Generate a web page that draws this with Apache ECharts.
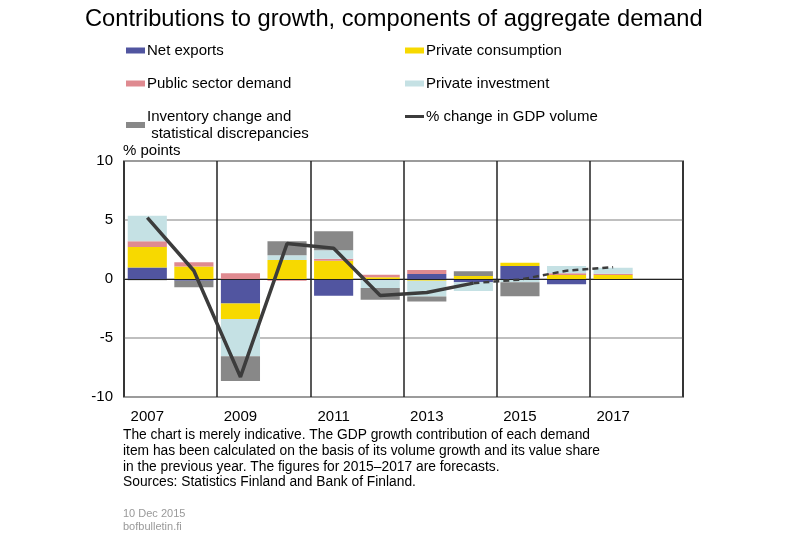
<!DOCTYPE html>
<html>
<head>
<meta charset="utf-8">
<script src="https://cdn.jsdelivr.net/npm/echarts@6/dist/echarts.min.js"></script>
<style>
  html, body { margin: 0; padding: 0; background: #fff; }
  #main { width: 800px; height: 556px; }
</style>
</head>
<body>
<div id="main"></div>
<script>
// data (% points)
var years = ['2007', '2008', '2009', '2010', '2011', '2012', '2013', '2014', '2015', '2016', '2017', '2018'];
var netExports = [0.98, -0.15, -2.08, 0, -1.43, -0.1, 0.42, -0.28, 1.1, -0.45, 0];
var privateConsumption = [1.74, 1.05, -1.32, 1.6, 1.54, 0.15, -0.14, 0.25, 0.28, 0.34, 0.34];
var publicDemand = [0.48, 0.37, 0.48, -0.14, 0.17, 0.2, 0.34, 0, 0, 0.14, 0.11];
var privateInvestment = [2.16, 0, -3.15, 0.42, 0.73, -0.67, -1.35, -0.73, -0.28, 0.62, 0.5];
var inventory = [-0.1, -0.55, -2.1, 1.18, 1.6, -0.98, -0.42, 0.4, -1.18, 0, 0];
var gdpActual = [5.2, 0.7, -8.3, 3.0, 2.6, -1.4, -1.15, -0.35, null, null, null];
var gdpForecast = [null, null, null, null, null, null, null, -0.35, -0.05, 0.7, 1.0];
var yTicks = [-10, -5, 0, 5, 10];

var font = 'Liberation Sans, Arial, sans-serif';

function barSeries(name, data, color, extra) {
  var s = {
    name: name,
    type: 'bar',
    stack: 'total',
    data: data,
    barCategoryGap: '16%',
    itemStyle: { color: color },
    emphasis: { disabled: true }
  };
  if (extra) Object.assign(s, extra);
  return s;
}

function legendAt(name, left, top, icon, h) {
  return {
    data: [name],
    left: left,
    top: top,
    icon: icon || 'rect',
    itemWidth: 19,
    itemHeight: h || 6,
    itemGap: 0,
    padding: 0,
    selectedMode: false,
    textStyle: { fontFamily: font, fontSize: 15, color: '#000', padding: [0, 0, 0, -3], lineHeight: 17 },
    formatter: function (n) {
      return n === 'Inventory change and statistical discrepancies'
        ? 'Inventory change and\n statistical discrepancies' : n;
    }
  };
}

var myChart = echarts.init(document.getElementById('main'));
var option = {
  animation: false,
  backgroundColor: '#fff',
  title: {
    text: 'Contributions to growth, components of aggregate demand',
    left: 85,
    top: 7,
    padding: 0,
    textStyle: { fontFamily: font, fontSize: 23.7, fontWeight: 'normal', color: '#000' }
  },
  legend: [
    legendAt('Net exports', 126, 42),
    legendAt('Private consumption', 405, 42),
    legendAt('Public sector demand', 126, 75),
    legendAt('Private investment', 405, 75),
    legendAt('Inventory change and statistical discrepancies', 126, 108),
    legendAt('% change in GDP volume', 405, 108, 'rect', 3)
  ],
  grid: {
    left: 124, right: 117, top: 161, bottom: 159,
    show: true, borderColor: '#444', borderWidth: 1.5
  },
  xAxis: {
    type: 'category',
    data: years,
    axisLine: { show: false },
    axisTick: { show: false },
    axisLabel: { interval: 1, fontFamily: font, fontSize: 15, color: '#000', margin: 12 },
    splitLine: { show: true, interval: 1, lineStyle: { color: '#222', width: 1.5 } }
  },
  yAxis: {
    type: 'value',
    min: yTicks[0],
    max: yTicks[yTicks.length - 1],
    interval: 5,
    axisLine: { show: false },
    axisTick: { show: false },
    axisLabel: { fontFamily: font, fontSize: 15, color: '#000', margin: 11 },
    splitLine: { lineStyle: { color: '#aaa', width: 1.5 } }
  },
  series: [
    barSeries('Net exports', netExports, '#5155a0', {
      markLine: {
        silent: true, symbol: 'none', label: { show: false },
        lineStyle: { color: '#222', width: 1, type: 'solid' },
        data: [{ yAxis: 0 }]
      }
    }),
    barSeries('Private consumption', privateConsumption, '#f7d900'),
    barSeries('Public sector demand', publicDemand, '#df8a90'),
    barSeries('Private investment', privateInvestment, '#c5e1e4'),
    barSeries('Inventory change and statistical discrepancies', inventory, '#888888'),
    {
      name: '% change in GDP volume',
      type: 'line',
      data: gdpActual,
      symbol: 'none',
      lineStyle: { color: '#3c3c3c', width: 3.5 },
      itemStyle: { color: '#3c3c3c' },
      z: 5
    },
    {
      name: 'GDP forecast',
      type: 'line',
      data: gdpForecast,
      symbol: 'none',
      lineStyle: { color: '#3c3c3c', width: 2.5, type: [6, 4] },
      itemStyle: { color: '#3c3c3c' },
      z: 5
    }
  ],
  graphic: [
    { type: 'text', left: 123, top: 143, style: { text: '% points', font: '15px ' + font, fill: '#000' } },
    {
      type: 'text', left: 123, top: 427,
      style: {
        text: 'The chart is merely indicative. The GDP growth contribution of each demand\n' +
              'item has been calculated on the basis of its volume growth and its value share\n' +
              'in the previous year. The figures for 2015\u20132017 are forecasts.\n' +
              'Sources: Statistics Finland and Bank of Finland.',
        font: '13.8px ' + font, fill: '#000', lineHeight: 15.9
      }
    },
    {
      type: 'text', left: 123, top: 507,
      style: { text: '10 Dec 2015\nbofbulletin.fi', font: '11px ' + font, fill: '#999', lineHeight: 13 }
    }
  ]
};
myChart.setOption(option);
window.onresize = myChart.resize;
</script>
</body>
</html>
